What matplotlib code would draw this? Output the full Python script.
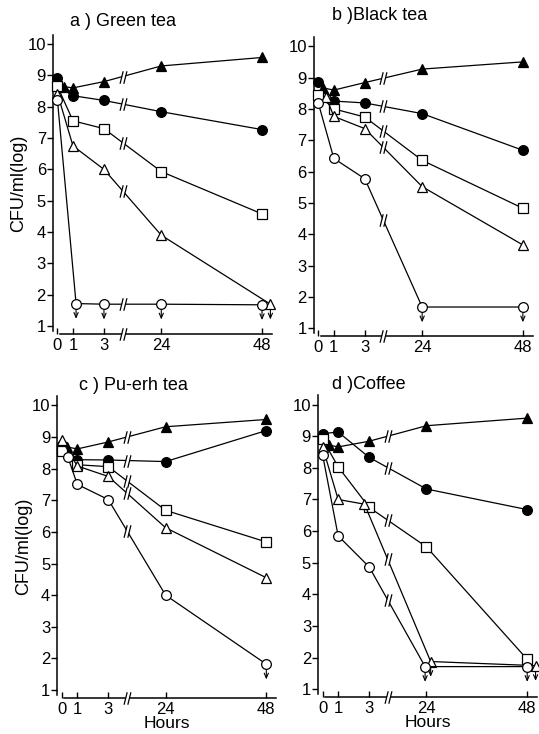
import numpy as np
import matplotlib.pyplot as plt
from matplotlib.path import Path

plt.rcParams['font.family'] = ['Liberation Sans', 'DejaVu Sans']

hours = [0, 1, 3, 24, 48]

# a) Green tea
a_tri_f_x = [0.4, 1, 3, 24, 48]
a_tri_f = [8.64, 8.6, 8.8, 9.3, 9.57]
a_circ_f = [8.9, 8.35, 8.2, 7.84, 7.27]
a_sq_o = [8.65, 7.55, 7.3, 5.93, 4.58]
a_tri_o_x = [0, 1, 3, 24, 50]
a_tri_o = [8.42, 6.75, 6.0, 3.9, 1.7]
a_circ_o_x = [0, 1.2, 3, 24, 48]
a_circ_o = [8.2, 1.72, 1.7, 1.7, 1.68]

# b) Black tea
b_tri_f_x = [0.3, 1, 3, 24, 48]
b_tri_f = [8.67, 8.6, 8.84, 9.27, 9.5]
b_circ_f = [8.87, 8.25, 8.19, 7.85, 6.68]
b_sq_o = [8.45, 8.0, 7.74, 6.36, 4.83]
b_tri_o_x = [0.5, 1, 3, 24, 48]
b_tri_o = [8.38, 7.76, 7.37, 5.52, 3.66]
b_circ_o = [8.18, 6.42, 5.77, 1.68, 1.68]

# c) Pu-erh tea
c_tri_f_x = [0.35, 1, 3, 24, 48]
c_tri_f = [8.68, 8.62, 8.84, 9.32, 9.55]
c_circ_f = [8.75, 8.28, 8.27, 8.22, 9.2]
c_sq_o = [8.55, 8.12, 8.06, 6.68, 5.68]
c_tri_o = [8.9, 8.08, 7.75, 6.13, 4.55]
c_circ_o_x = [0.4, 1, 3, 24, 48]
c_circ_o = [8.35, 7.5, 7.02, 4.0, 1.82]

# d) Coffee
d_tri_f_x = [0.4, 1, 3, 24, 48]
d_tri_f = [8.72, 8.66, 8.84, 9.33, 9.57]
d_circ_f = [9.08, 9.13, 8.33, 7.33, 6.68]
d_sq_o = [8.9, 8.03, 6.75, 5.5, 1.95]
d_tri_o_x = [0, 1, 2.7, 25, 50]
d_tri_o = [8.65, 7.0, 6.85, 1.88, 1.75]
d_circ_o_x = [0, 1, 3, 23.5, 48]
d_circ_o = [8.4, 5.85, 4.87, 1.72, 1.72]

# broken time axis: hours -> drawing position
H_KNOTS = [-10, 0, 1, 3, 24, 48, 100]
P_KNOTS = [-10, 0, 1, 3, 6.7, 13.2, 13.2 + 52 * 6.5 / 24]

def fwd(h):
    return np.interp(h, H_KNOTS, P_KNOTS)

def inv(p):
    return np.interp(p, P_KNOTS, H_KNOTS)

BREAK_H = float(inv(4.2))

slash = Path([(-0.55, -1), (-0.05, 1), (0.05, -1), (0.55, 1)],
             [Path.MOVETO, Path.LINETO, Path.MOVETO, Path.LINETO])
gap = Path([(-0.5, -1), (0.0, 1), (0.5, 1), (0.0, -1), (-0.5, -1)],
           [Path.MOVETO, Path.LINETO, Path.LINETO, Path.LINETO, Path.CLOSEPOLY])


def break_mark(ax, x, y, clip=True):
    ax.plot([x], [y], marker=gap, ms=9, mfc='white', mec='none', ls='none',
            zorder=4, clip_on=clip)
    ax.plot([x], [y], marker=slash, ms=9, mfc='none', mec='black', mew=0.9,
            ls='none', zorder=5, clip_on=clip)


def arrow_down(ax, x, y):
    ax.annotate('', xy=(x, y), xytext=(0, -11), textcoords='offset points',
                arrowprops=dict(arrowstyle='<-,head_length=0.35,head_width=0.15',
                                color='black', lw=0.8, shrinkA=0, shrinkB=4.5))


def panel(ax, series, arrows, title, tx, ty, ylabel=False, xlabel=False):
    ax.set_xscale('function', functions=(fwd, inv))
    for x, y, m, fc in series:
        ms = 7.5 if m == '^' else 7
        ax.plot(x, y, '-', color='black', lw=0.9, marker=m, mfc=fc, mec='black',
                ms=ms, mew=0.9, zorder=3, clip_on=False)
        xs = np.array(x, dtype=float)
        yb = np.interp(fwd(BREAK_H), fwd(xs), y)
        break_mark(ax, BREAK_H, yb)
    for x, y in arrows:
        arrow_down(ax, x, y)

    ax.set_xlim(-0.3, 50.3)
    ax.set_ylim(0.75, 10.35)
    ax.spines['top'].set_visible(False)
    ax.spines['right'].set_visible(False)
    ax.spines['left'].set_bounds(0.85, 10.3)
    ax.spines['bottom'].set_bounds(0.15, 50.3)
    ax.spines['left'].set_linewidth(1.1)
    ax.spines['bottom'].set_linewidth(1.1)
    ax.set_xticks(hours)
    ax.set_xticklabels([str(h) for h in hours])
    ax.xaxis.set_minor_locator(plt.NullLocator())
    ax.set_yticks(range(1, 11))
    ax.tick_params(axis='x', direction='in', length=4, width=1, pad=3, labelsize=12)
    ax.tick_params(axis='y', direction='out', length=4, width=1, pad=1, labelsize=12)
    break_mark(ax, BREAK_H, 0.75, clip=False)

    ax.text(tx, ty, title, transform=ax.transAxes, ha='center', va='center',
            fontsize=13)
    if ylabel:
        ax.text(-0.155, 0.5, 'CFU/ml(log)', transform=ax.transAxes, rotation=90,
                ha='center', va='center', fontsize=13)
    if xlabel:
        ax.set_xlabel('Hours', fontsize=12.5, labelpad=-1)


fig = plt.figure(figsize=(5.39, 7.34), dpi=100)
ax_a = fig.add_axes([0.098, 0.545, 0.406, 0.410])
ax_b = fig.add_axes([0.582, 0.542, 0.406, 0.410])
ax_c = fig.add_axes([0.106, 0.049, 0.406, 0.414])
ax_d = fig.add_axes([0.590, 0.050, 0.406, 0.414])

panel(ax_a,
      [(a_tri_f_x, a_tri_f, '^', 'black'),
       (hours, a_circ_f, 'o', 'black'),
       (hours, a_sq_o, 's', 'white'),
       (a_tri_o_x, a_tri_o, '^', 'white'),
       (a_circ_o_x, a_circ_o, 'o', 'white')],
      [(a_circ_o_x[i], a_circ_o[i]) for i in (1, 2, 3, 4)] + [(a_tri_o_x[4], a_tri_o[4])],
      'a ) Green tea', 0.32, 1.037, ylabel=True)

panel(ax_b,
      [(b_tri_f_x, b_tri_f, '^', 'black'),
       (hours, b_circ_f, 'o', 'black'),
       (hours, b_sq_o, 's', 'white'),
       (b_tri_o_x, b_tri_o, '^', 'white'),
       (hours, b_circ_o, 'o', 'white')],
      [(hours[i], b_circ_o[i]) for i in (3, 4)],
      'b )Black tea', 0.30, 1.066)

panel(ax_c,
      [(c_tri_f_x, c_tri_f, '^', 'black'),
       (hours, c_circ_f, 'o', 'black'),
       (hours, c_sq_o, 's', 'white'),
       (hours, c_tri_o, '^', 'white'),
       (c_circ_o_x, c_circ_o, 'o', 'white')],
      [(c_circ_o_x[4], c_circ_o[4])],
      'c ) Pu-erh tea', 0.35, 1.03, ylabel=True, xlabel=True)

panel(ax_d,
      [(d_tri_f_x, d_tri_f, '^', 'black'),
       (hours, d_circ_f, 'o', 'black'),
       (hours, d_sq_o, 's', 'white'),
       (d_tri_o_x, d_tri_o, '^', 'white'),
       (d_circ_o_x, d_circ_o, 'o', 'white')],
      [(d_circ_o_x[i], d_circ_o[i]) for i in (3, 4)] + [(d_tri_o_x[i], d_tri_o[i]) for i in (3, 4)],
      'd )Coffee', 0.23, 1.03, xlabel=True)

fig.savefig('out.png', dpi=100)
